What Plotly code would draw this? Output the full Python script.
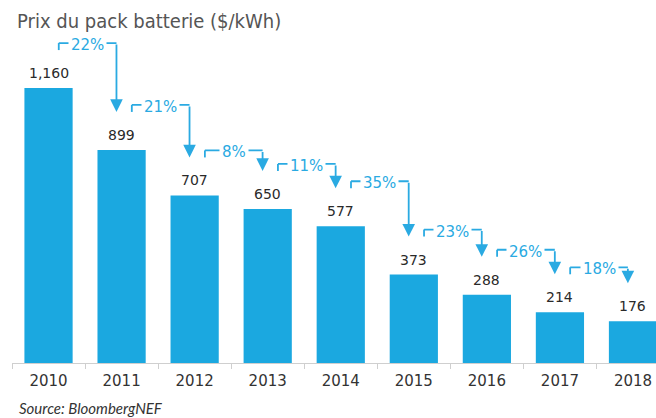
import plotly.graph_objects as go

years = ["2010", "2011", "2012", "2013", "2014", "2015", "2016", "2017", "2018"]
prices = [1160, 899, 707, 650, 577, 373, 288, 214, 176]
drops = ["22%", "21%", "8%", "11%", "35%", "23%", "26%", "18%"]

BAR = "#1ba8e0"
ACC = "#2aaae2"
W, H = 656, 418
ML, MR, MT, MB = 12, 0, 30, 55
YMAX = 1405
plot_h = H - MT - MB
plot_w = W - ML - MR
upp = YMAX / plot_h  # data units per pixel

fig = go.Figure()
fig.add_trace(go.Bar(x=years, y=prices, marker_color=BAR, marker_line_width=0,
                     hoverinfo="skip"))

annotations = []
shapes = []
for i, v in enumerate(prices):
    annotations.append(dict(x=i, y=v, xref="x", yref="y", text=f"{v:,}",
                            showarrow=False, yanchor="bottom", yshift=5,
                            font=dict(family="DejaVu Sans", size=14, color="#2a2a2a")))

for i, d in enumerate(drops):
    top = prices[i] + 45 * upp
    tip = prices[i + 1] + 38 * upp
    xl = i + 0.14
    xr = i + 1 - 0.07
    shapes.append(dict(type="line", xref="x", yref="y", x0=xl, x1=xl,
                       y0=top - 7 * upp, y1=top, line=dict(color=ACC, width=1.8)))
    shapes.append(dict(type="line", xref="x", yref="y", x0=xl, x1=xr,
                       y0=top, y1=top, line=dict(color=ACC, width=1.8)))
    annotations.append(dict(x=xr, y=tip, ax=xr, ay=top, xref="x", yref="y",
                            axref="x", ayref="y", text="", showarrow=True,
                            arrowhead=2, arrowsize=1.4, arrowwidth=1.8,
                            arrowcolor=ACC, standoff=0, startstandoff=0))
    annotations.append(dict(x=(xl + xr) / 2, y=top, xref="x", yref="y", text=d,
                            showarrow=False, yanchor="middle", yshift=-2,
                            bgcolor="white", borderpad=2,
                            font=dict(family="DejaVu Sans", size=15, color=ACC)))

annotations.append(dict(x=(17 - ML) / plot_w, y=-(408 - (H - MB)) / plot_h,
                        xref="paper", yref="paper", text="<i>Source: BloombergNEF</i>",
                        showarrow=False, xanchor="left", yanchor="middle",
                        font=dict(family="Lato", size=15, color="#333")))

fig.update_layout(
    width=W, height=H,
    margin=dict(l=ML, r=MR, t=MT, b=MB),
    paper_bgcolor="white", plot_bgcolor="white",
    bargap=0.34,
    showlegend=False,
    title=dict(text="Prix du pack batterie ($/kWh)", x=17 / W, xanchor="left",
               xref="container", y=1 - 21 / H, yanchor="middle", yref="container",
               font=dict(family="DejaVu Sans Condensed", size=20, color="#555")),
    xaxis=dict(type="category", range=[-0.5, 8.315], showline=True,
               linecolor="#cfcfcf", linewidth=1, ticks="outside",
               tickson="boundaries", ticklen=5, tickcolor="#cfcfcf",
               showgrid=False, ticklabelstandoff=4,
               tickfont=dict(family="DejaVu Sans", size=15, color="#333"),
               fixedrange=True),
    yaxis=dict(range=[0, YMAX], visible=False, showgrid=False, fixedrange=True),
    shapes=shapes,
    annotations=annotations,
)

fig.write_html("out.html", config={"displayModeBar": False},
               post_script="document.body.style.margin='0';document.body.style.overflow='hidden';")
